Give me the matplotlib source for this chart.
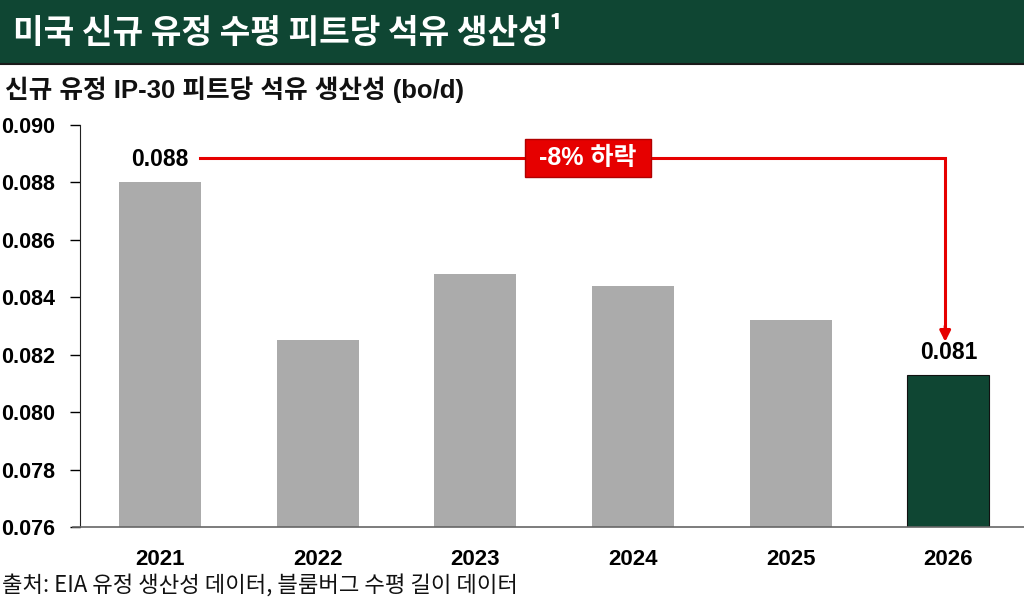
import matplotlib
matplotlib.use("Agg")
import matplotlib.pyplot as plt
from matplotlib.patches import Rectangle

years = ["2021", "2022", "2023", "2024", "2025", "2026"]
productivity = [0.0880, 0.0825, 0.0848, 0.0844, 0.0832, 0.0813]
labels_shown = {0: "0.088", 5: "0.081"}
change_label = "-8% 하락"

title = "미국 신규 유정 수평 피트당 석유 생산성¹"
subtitle = "신규 유정 IP-30 피트당 석유 생산성 (bo/d)"
source = "출처: EIA 유정 생산성 데이터, 블룸버그 수평 길이 데이터"

GREEN = "#0f4633"
GRAY = "#ababab"
RED = "#e60000"
FONTS = ["Liberation Sans", "Noto Sans CJK KR", "DejaVu Sans"]
plt.rcParams["font.family"] = FONTS

fig = plt.figure(figsize=(10.24, 6.0), dpi=100)

# header band
fig.patches.append(Rectangle((0, 1 - 64 / 600), 1, 64 / 600, transform=fig.transFigure,
                             facecolor=GREEN, edgecolor="none", zorder=0))
fig.add_artist(plt.Line2D([0, 1], [1 - 64 / 600] * 2, transform=fig.transFigure,
                          color="#1a1a1a", lw=1.5))
fig.text(0.013, 1 - 33 / 600, title, color="white", fontsize=24, fontweight="bold",
         va="center", ha="left", family=["Noto Sans CJK KR", "DejaVu Sans"])
fig.text(0.005, 1 - 90 / 600, subtitle, color="#111111", fontsize=18.5, fontweight="bold",
         va="center", ha="left")
fig.text(0.002, 1 - 585 / 600, source, color="#111111", fontsize=16,
         va="center", ha="left", family=["Noto Sans CJK KR", "DejaVu Sans"])

ax = fig.add_axes([80 / 1024, 1 - 527 / 600, 944 / 1024, 402 / 600])
x = list(range(len(years)))
colors = [GRAY] * (len(years) - 1) + [GREEN]
ax.bar(x, productivity, width=0.52, color=colors, bottom=0, zorder=2)
ax.patches[-1].set_edgecolor("#111111")
ax.patches[-1].set_linewidth(0.8)

ax.set_ylim(0.076, 0.090)
ax.set_xlim(-0.508, 5.48)
ax.set_yticks([0.076 + 0.002 * i for i in range(8)])
ax.set_yticklabels([f"{0.076 + 0.002 * i:.3f}" for i in range(8)])
ax.set_xticks(x)
ax.set_xticklabels(years)
ax.tick_params(axis="y", length=7, width=1, pad=11, labelsize=15.5)
ax.tick_params(axis="x", length=0, pad=16, labelsize=16)
for t in ax.get_yticklabels() + ax.get_xticklabels():
    t.set_fontweight("bold")
ax.spines["top"].set_visible(False)
ax.spines["right"].set_visible(False)
ax.spines["left"].set_color("#222222")
ax.spines["bottom"].set_color("#666666")
ax.spines["bottom"].set_linewidth(1.2)
ax.spines["bottom"].set_bounds(-0.55, 5.48)
ax.spines["bottom"].set_clip_on(False)

for i, txt in labels_shown.items():
    ax.annotate(txt, (x[i], productivity[i]), xytext=(0, 8), textcoords="offset points",
                ha="center", va="bottom", fontsize=16.5, fontweight="bold")

# connector from first label to last bar
y_line = productivity[0] + 0.00085
x_start = x[0] + 0.255
x_end = x[-1] - 0.02
ax.plot([x_start, x_end, x_end], [y_line, y_line, productivity[-1] + 0.00145],
        color=RED, lw=2.2, zorder=3, solid_joinstyle="miter")
ax.annotate("", xy=(x_end, productivity[-1] + 0.00115), xytext=(x_end, productivity[-1] + 0.0017),
            arrowprops=dict(arrowstyle="-|>", color=RED, lw=2.2, mutation_scale=16,
                            shrinkA=0, shrinkB=0), zorder=4)
ax.text(2.715, y_line, " " + change_label + " ", ha="center", va="center", color="white",
        fontsize=18, fontweight="bold", zorder=5,
        bbox=dict(boxstyle="square,pad=0.28", facecolor=RED, edgecolor="#b00000", lw=1))

fig.savefig("out.png", dpi=100)
